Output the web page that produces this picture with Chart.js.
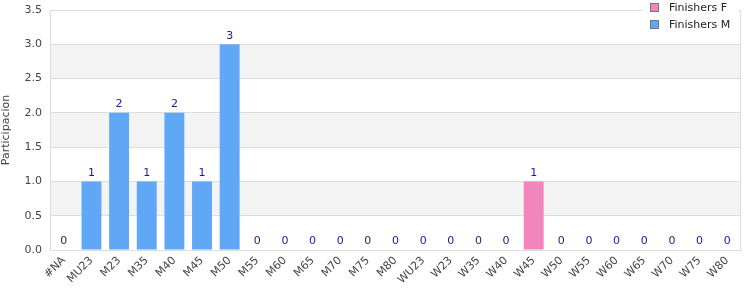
<!DOCTYPE html>
<html>
<head>
<meta charset="utf-8">
<script src="https://cdn.jsdelivr.net/npm/chart.js@4/dist/chart.umd.min.js"></script>
<style>
  html, body { margin: 0; padding: 0; background: #fff; }
  #wrap { width: 750px; height: 300px; }
</style>
</head>
<body>
<div id="wrap"><canvas id="grafico"></canvas></div>
<script>
var categorias = ['#NA', 'MU23', 'M23', 'M35', 'M40', 'M45', 'M50', 'M55', 'M60', 'M65', 'M70', 'M75', 'M80',
    'WU23', 'W23', 'W35', 'W40', 'W45', 'W50', 'W55', 'W60', 'W65', 'W70', 'W75', 'W80'];
var finishers_f = [null, null, null, null, null, null, null, null, null, null, null, null, null,
    0, 0, 0, 0, 1, 0, 0, 0, 0, 0, 0, 0];
var finishers_m = [0, 1, 2, 1, 2, 1, 3, 0, 0, 0, 0, 0, 0,
    null, null, null, null, null, null, null, null, null, null, null, null];
var fuente = 'DejaVu Sans';

// franjas grises alternas y borde del area
var fondo = {
    id: 'fondo',
    beforeDraw: function (chart) {
        var c = chart.ctx, a = chart.chartArea, y = chart.scales.y;
        c.save();
        for (var v = 0.5; v < 3.5; v += 1) {
            var y1 = y.getPixelForValue(v + 0.5), y0 = y.getPixelForValue(v);
            c.fillStyle = '#f3f3f3';
            c.fillRect(a.left, y1, a.right - a.left, y0 - y1);
        }
        c.restore();
    },
    afterDraw: function (chart) {
        var c = chart.ctx, a = chart.chartArea;
        c.save();
        c.strokeStyle = '#dddddd';
        c.lineWidth = 1;
        c.strokeRect(a.left + 0.5, a.top + 0.5, a.right - a.left - 1, a.bottom - a.top);
        // leyenda
        c.fillStyle = '#ffffff';
        c.fillRect(643, 0, 95, 31);
        var items = [['Finishers F', '#f285bb'], ['Finishers M', '#60a8f5']];
        c.font = '11px ' + fuente;
        c.textBaseline = 'middle';
        for (var i = 0; i < items.length; i++) {
            var yy = 3 + i * 17;
            c.fillStyle = items[i][1];
            c.fillRect(650, yy, 9, 9);
            c.strokeStyle = '#777777';
            c.strokeRect(650.5, yy + 0.5, 8, 8);
            c.fillStyle = '#222222';
            c.fillText(items[i][0], 669, yy + 5);
        }
        c.restore();
    }
};

var etiquetas = {
    id: 'etiquetas',
    afterDatasetsDraw: function (chart) {
        var c = chart.ctx;
        c.save();
        c.font = '11px ' + fuente;
        c.fillStyle = '#1a1a8c';
        c.textAlign = 'center';
        c.textBaseline = 'bottom';
        chart.data.datasets.forEach(function (ds, i) {
            var meta = chart.getDatasetMeta(i);
            meta.data.forEach(function (bar, j) {
                if (ds.data[j] === null) return;
                c.fillText(ds.data[j], bar.x, bar.y - 3);
            });
        });
        c.restore();
    }
};

new Chart(document.getElementById('grafico').getContext('2d'), {
    type: 'bar',
    data: {
        labels: categorias,
        datasets: [{
            label: 'Finishers F',
            data: finishers_f,
            backgroundColor: '#f285bb'
        }, {
            label: 'Finishers M',
            data: finishers_m,
            backgroundColor: '#60a8f5'
        }]
    },
    options: {
        responsive: true,
        maintainAspectRatio: false,
        animation: false,
        layout: { padding: { top: 0, right: 9, left: 0, bottom: 0 } },
        categoryPercentage: 0.9,
        barPercentage: 0.8,
        plugins: { legend: { display: false }, tooltip: { enabled: false } },
        scales: {
            x: {
                stacked: true,
                grid: { display: false, drawTicks: false },
                border: { color: '#dddddd' },
                ticks: { color: '#444', font: { family: fuente, size: 11 }, minRotation: 45, maxRotation: 45, autoSkip: false, padding: 4 },
                afterFit: function (s) { s.height = 50; }
            },
            y: {
                stacked: true,
                min: 0, max: 3.5,
                grid: { color: '#dddddd', drawTicks: false },
                border: { color: '#dddddd' },
                ticks: {
                    stepSize: 0.5, color: '#444', padding: 8,
                    font: { family: fuente, size: 11 },
                    callback: function (v) { return v.toFixed(1); }
                },
                title: { display: true, text: 'Participacion', color: '#444', font: { family: fuente, size: 11 }, padding: 0 },
                afterFit: function (s) { s.width = 50; s.paddingTop = 10; }
            }
        }
    },
    plugins: [fondo, etiquetas]
});
</script>
</body>
</html>
